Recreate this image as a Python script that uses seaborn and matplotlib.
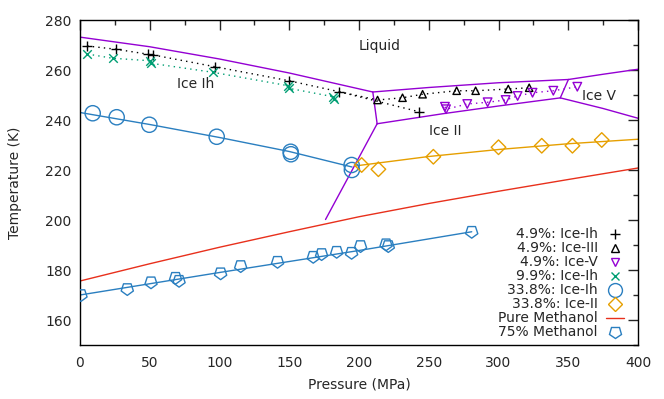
import numpy as np
import pandas as pd
import matplotlib
matplotlib.use("Agg")
import matplotlib.pyplot as plt
from matplotlib.markers import MarkerStyle
from matplotlib.transforms import Affine2D
from matplotlib.lines import Line2D
from matplotlib.ticker import MultipleLocator
import seaborn as sns

# ---------------- data ----------------
# phase boundaries (P in MPa, T in K)
liq_ih_P = [0, 50, 100, 150, 209.9]
liq_ih_T = [273.15, 269.3, 264.4, 258.8, 251.2]
ih_iii_P = [209.9, 213.0]
ih_iii_T = [251.2, 238.5]
ih_ii_P = [213.0, 176.0]
ih_ii_T = [238.5, 200.2]
liq_iii_P = [209.9, 250, 300, 350.1]
liq_iii_T = [251.2, 253.0, 254.9, 256.2]
iii_ii_P = [213.0, 260, 300, 344.3]
iii_ii_T = [238.5, 242.5, 245.6, 248.85]
iii_v_P = [344.3, 350.1]
iii_v_T = [248.85, 256.2]
liq_v_P = [350.1, 375, 400]
liq_v_T = [256.2, 258.3, 260.3]
ii_v_P = [344.3, 375, 400]
ii_v_T = [248.85, 244.6, 240.7]

# 4.9% methanol, Ice-Ih
m49_ih_P = [5.2, 25.8, 49.0, 52.6, 96.8, 149.8, 185.9, 243.0]
m49_ih_T = [269.6, 268.3, 266.3, 266.0, 261.3, 255.7, 251.3, 243.3]
# 4.9% Ice-III
m49_iii_P = [213.3, 231.2, 245.6, 270.0, 283.6, 307.0, 322.0]
m49_iii_T = [248.0, 248.9, 250.3, 251.7, 251.7, 252.4, 252.9]
# 4.9% Ice-V
m49_v_P = [261.6, 262.4, 277.6, 292.2, 305.1, 313.7, 324.4, 339.3, 356.5]
m49_v_T = [245.3, 244.3, 246.4, 247.1, 248.0, 249.6, 250.9, 251.7, 253.3]
# 9.9% Ice-Ih
m99_ih_P = [5.2, 23.4, 50.2, 50.8, 95.1, 149.3, 149.6, 181.6, 182.0]
m99_ih_T = [266.4, 264.7, 263.7, 262.7, 259.1, 253.7, 252.7, 249.3, 248.5]
# 33.8% Ice-Ih
m338_ih_P = [9.1, 26.3, 49.7, 98.0, 151.0, 151.2, 194.7, 194.9]
m338_ih_T = [242.7, 241.1, 238.1, 233.3, 227.3, 226.3, 222.0, 220.0]
m338_ih_fitP = [0, 50, 100, 150, 195]
m338_ih_fitT = [243.0, 238.2, 233.0, 227.4, 221.2]
# 33.8% Ice-II
m338_ii_P = [201.9, 213.9, 253.3, 300.0, 331.0, 353.0, 374.0]
m338_ii_T = [222.0, 220.3, 225.3, 229.1, 229.7, 229.7, 232.0]
m338_ii_fitP = [197, 250, 300, 350, 400]
m338_ii_fitT = [221.6, 225.4, 228.2, 230.5, 232.3]
# pure methanol melting line
pure_P = [0, 50, 100, 150, 200, 250, 300, 350, 400]
pure_T = [175.6, 182.5, 189.1, 195.3, 201.3, 206.6, 211.5, 216.2, 220.8]
# 75% methanol
m75_P = [0.7, 33.9, 50.9, 68.5, 71.0, 100.8, 115.2, 141.6, 167.2, 173.2,
         184.0, 194.7, 201.1, 219.4, 221.0, 280.8]
m75_T = [170.0, 172.4, 175.1, 176.9, 175.7, 178.7, 181.6, 183.3, 185.3, 186.4,
         187.3, 186.9, 189.6, 190.3, 189.6, 195.3]
m75_fitP = [0, 50, 100, 150, 200, 280.8]
m75_fitT = [170.0, 174.5, 179.0, 183.4, 187.8, 195.3]

labels = ["4.9%: Ice-Ih", "4.9%: Ice-III", "4.9%: Ice-V", "9.9%: Ice-Ih",
          "33.8%: Ice-Ih", "33.8%: Ice-II", "Pure Methanol", "75% Methanol"]

# ---------------- style ----------------
sns.set_style("white")
plt.rcParams['font.family'] = ['DejaVu Sans']
plt.rcParams['font.size'] = 10

PURPLE = "#9400d3"
GREEN = "#009e73"
BLUE = "#2a7fc0"
ORANGE = "#e69f00"
RED = "#e8301c"
BLACK = "black"

fig = plt.figure(figsize=(6.64, 3.99), dpi=100)
ax = fig.add_axes([80/664, 1 - 345/399, (638-80)/664, (345-20)/399])


def line(P, T, color, ls="-", lw=1.0):
    df = pd.DataFrame({"P": P, "T": T})
    sns.lineplot(data=df, x="P", y="T", ax=ax, color=color, linestyle=ls,
                 linewidth=lw, sort=False, estimator=None, legend=False)


def pts(P, T, color, marker, size, filled=False, mew=1.0):
    df = pd.DataFrame({"P": P, "T": T})
    if filled:
        sns.scatterplot(data=df, x="P", y="T", ax=ax, color=color, marker=marker,
                        s=size, linewidth=mew, legend=False, zorder=5)
    else:
        sns.scatterplot(data=df, x="P", y="T", ax=ax, marker=marker, s=size,
                        facecolor="none", edgecolor=color, linewidth=mew,
                        legend=False, zorder=5)


# phase boundaries
for P, T in [(liq_ih_P, liq_ih_T), (ih_iii_P, ih_iii_T), (ih_ii_P, ih_ii_T),
             (liq_iii_P, liq_iii_T), (iii_ii_P, iii_ii_T), (iii_v_P, iii_v_T),
             (liq_v_P, liq_v_T), (ii_v_P, ii_v_T)]:
    line(P, T, PURPLE, lw=1.0)

# dotted connecting lines
line(m49_ih_P, m49_ih_T, BLACK, ls=(0, (1, 3)), lw=1.0)
line([m49_ih_P[6]] + m49_iii_P, [m49_ih_T[6]] + m49_iii_T, BLACK, ls=(0, (1, 3)), lw=1.0)
line(m99_ih_P, m99_ih_T, GREEN, ls=(0, (1, 3)), lw=1.0)
line(m49_v_P, m49_v_T, PURPLE, ls=(0, (1, 3)), lw=1.0)

# fit lines
line(m338_ih_fitP, m338_ih_fitT, BLUE, lw=1.0)
line(m338_ii_fitP, m338_ii_fitT, ORANGE, lw=1.0)
line(pure_P, pure_T, RED, lw=1.0)
line(m75_fitP, m75_fitT, BLUE, lw=1.0)

pent_down = MarkerStyle('p', transform=Affine2D().rotate_deg(180))

pts(m49_ih_P, m49_ih_T, BLACK, '+', 50, filled=True)
pts(m49_iii_P, m49_iii_T, BLACK, '^', 28)
pts(m49_v_P, m49_v_T, PURPLE, 'v', 38)
pts(m99_ih_P, m99_ih_T, GREEN, 'x', 38, filled=True)
pts(m338_ih_P, m338_ih_T, BLUE, 'o', 120)
pts(m338_ii_P, m338_ii_T, ORANGE, 'D', 55)
pts(m75_P, m75_T, BLUE, pent_down, 85)

# region labels
ax.text(215, 269.6, "Liquid", ha="center", va="center", fontsize=10)
ax.text(83, 254.6, "Ice Ih", ha="center", va="center", fontsize=10)
ax.text(262, 235.5, "Ice II", ha="center", va="center", fontsize=10)
ax.text(372, 249.8, "Ice V", ha="center", va="center", fontsize=10)

ax.set_xlim(0, 400)
ax.set_ylim(150, 280)
ax.set_xlabel("Pressure (MPa)", fontsize=10, labelpad=5)
ax.set_ylabel("Temperature (K)", fontsize=10, labelpad=17)
ax.xaxis.set_major_locator(MultipleLocator(50))
ax.xaxis.set_minor_locator(MultipleLocator(25))
ax.yaxis.set_major_locator(MultipleLocator(20))
ax.yaxis.set_minor_locator(MultipleLocator(10))
ax.set_yticks([160, 180, 200, 220, 240, 260, 280])
ax.tick_params(which="both", direction="in", top=True, right=True, width=1.0)
ax.tick_params(axis="x", which="major", length=7, labelsize=10, pad=8)
ax.tick_params(axis="y", which="major", length=7, labelsize=10, pad=6)
ax.tick_params(which="minor", length=3.5)
for s in ax.spines.values():
    s.set_color("black")
    s.set_linewidth(1.0)

handles = [
    Line2D([], [], ls="none", marker='+', color=BLACK, ms=7),
    Line2D([], [], ls="none", marker='^', mfc="none", mec=BLACK, ms=5.5),
    Line2D([], [], ls="none", marker='v', mfc="none", mec=PURPLE, ms=6),
    Line2D([], [], ls="none", marker='x', color=GREEN, ms=6),
    Line2D([], [], ls="none", marker='o', mfc="none", mec=BLUE, ms=10),
    Line2D([], [], ls="none", marker='D', mfc="none", mec=ORANGE, ms=7),
    Line2D([], [], ls="-", color=RED, lw=1.0),
    Line2D([], [], ls="none", marker=pent_down, mfc="none", mec=BLUE, ms=9),
]
leg = ax.legend(handles, labels, loc="lower right", markerfirst=False,
                frameon=False, fontsize=10, handlelength=1.3, handletextpad=0.6,
                labelspacing=0.0, borderaxespad=0.0, bbox_to_anchor=(0.985, 0.0))

fig.savefig("out.png", dpi=100)
